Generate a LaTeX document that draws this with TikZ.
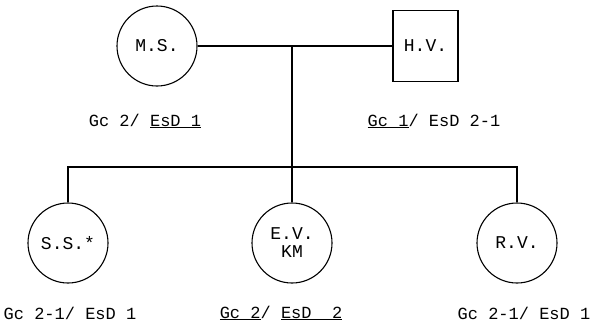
\documentclass[tikz,border=0pt]{standalone}
\usepackage{fontspec}
\setmainfont{Liberation Mono}
\usepackage{tikz}
\usetikzlibrary{positioning, calc}
\tikzset{
  female/.style={circle, draw=black, line width=1.1bp, minimum size=80bp,
                 inner sep=0pt, align=center,
                 font=\fontsize{18bp}{18bp}\selectfont},
  male/.style={rectangle, draw=black, line width=1.1bp, minimum width=65bp,
               minimum height=71bp, inner sep=0pt,
               font=\fontsize{18bp}{18bp}\selectfont},
  geno/.style={font=\fontsize{17bp}{20bp}\selectfont, inner sep=1bp},
  line/.style={line width=1.1bp},
}

\begin{document}
\begin{tikzpicture}[x=1bp, y=-1bp]
\useasboundingbox (0,0) rectangle (594,326);

% ── Eltern ───────────────────────────────────────────────────────────────────
\node[female] (ms) at (157,46) {M.S.};
\node[male]   (hv) at (425.5,46) {H.V.};

\node[geno] (gms) at (145,121) {Gc 2/ \underline{EsD 1}};
\node[geno] (ghv) at (434,121) {\underline{Gc 1}/ EsD 2-1};

% ── Kinder ───────────────────────────────────────────────────────────────────
\node[female] (ss) at (68,243)  {S.S.*};
\node[female] (ev) at (292,243) {E.V.\\KM};
\node[female] (rv) at (517,243) {R.V.};

\node[geno] (gss) at (70,313)  {Gc 2-1/ EsD 1};
\node[geno] (gev) at (281,313) {\underline{Gc 2}/ \underline{EsD\ \ 2}};
\node[geno] (grv) at (524,313) {Gc 2-1/ EsD 1};

% ── Linien ───────────────────────────────────────────────────────────────────
\coordinate (cpl) at (292,46);
\coordinate (bar) at (292,167);

\draw[line] (ms) -- (hv);
\draw[line] (cpl) -- (ev.north);
\draw[line] (ss.north) |- (bar) -| (rv.north);

\end{tikzpicture}
\end{document}
